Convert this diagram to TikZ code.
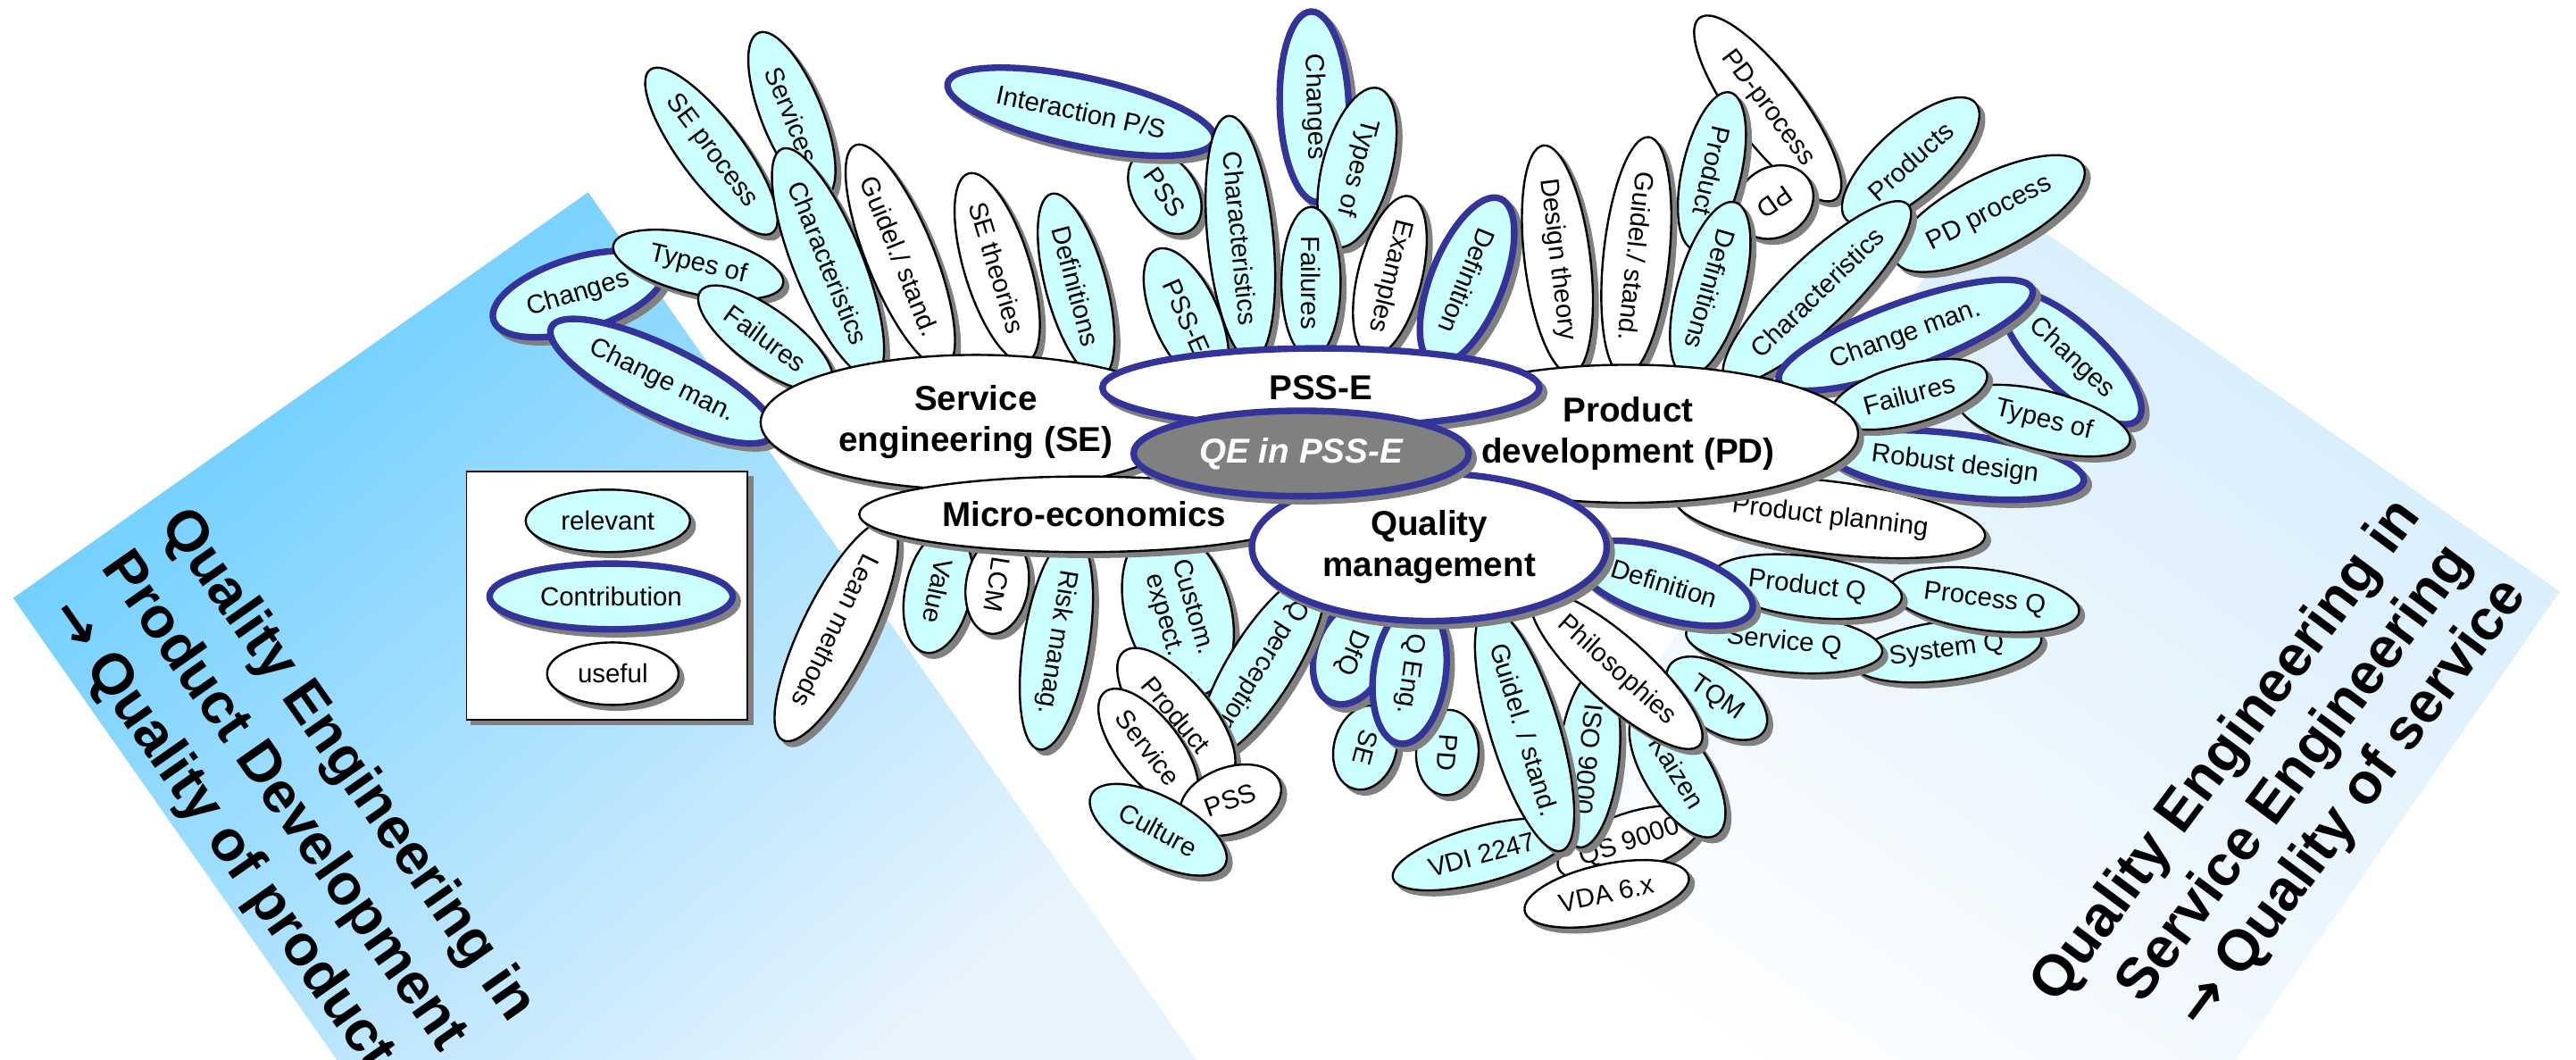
\documentclass[tikz,border=0pt]{standalone}
\usepackage{fontspec}
\setmainfont{Liberation Sans}
\newfontfamily\arrowfont{DejaVu Sans}
\usetikzlibrary{shapes.geometric}
\definecolor{relfill}{HTML}{CCFFFF}
\definecolor{navy}{HTML}{333399}
\definecolor{shadowgray}{HTML}{808080}
\definecolor{qegray}{HTML}{808080}
\definecolor{lpanelA}{HTML}{66CCFF}
\definecolor{lpanelB}{HTML}{E8F4FD}
\definecolor{rpanelA}{HTML}{D4ECFC}
\definecolor{rpanelB}{HTML}{FFFFFF}
\newcommand\lblfont{\fontsize{16}{18}\selectfont}
\newcommand\ttlfont{\bfseries\fontsize{21}{25}\selectfont}
\newcommand\bigfont{\bfseries\fontsize{35}{42}\selectfont}
\newcommand\petal[8]{\node[#1, rotate=#5, minimum width=#6pt, minimum height=#7pt] (#2) at (#3,-#4) {#8};}
\begin{document}
\begin{tikzpicture}[x=1pt,y=1pt,
  shad/.style={preaction={fill=shadowgray, draw=shadowgray, transform canvas={shift={(3pt,-3pt)}}}},
  base/.style={ellipse, inner sep=0pt, outer sep=0pt, font=\lblfont, align=center, shad},
  rel/.style={base, fill=relfill, draw=black, line width=1.3pt},
  con/.style={base, fill=relfill, draw=navy, line width=4pt},
  use/.style={base, fill=white, draw=black, line width=1.3pt},
  ttl/.style={base, font=\ttlfont, fill=white, draw=black, line width=1.3pt},
  ttlc/.style={ttl, draw=navy, line width=4pt},
  big/.style={font=\bigfont, inner sep=0pt},
]
\useasboundingbox (0,0) rectangle (1568,-645);
\fill[white] (0,0) rectangle (1568,-645);
% panels
\shade[top color=lpanelA, bottom color=lpanelB, shading angle=40]
  (358,-117) -- (8,-364) -- (205,-645) -- (728,-645) -- cycle;
\shade[top color=rpanelA, bottom color=rpanelB, shading angle=-35]
  (1208,-116) -- (1558,-360) -- (1361,-645) -- (841,-645) -- cycle;
% panel texts
\node[big, rotate=-55, anchor=base west] (lt1) at (97,-319) {Quality Engineering in};
\node[big, rotate=-55, anchor=base west] (lt2) at (61,-345) {Product Development};
\node[big, rotate=-55, anchor=base west] (lt3) at (29,-374) {{\arrowfont →} Quality of product};
\node[big, rotate=53.3, anchor=base west] (rt1) at (1252,-612) {Quality Engineering in};
\node[big, rotate=53.3, anchor=base west] (rt2) at (1304,-612) {Service Engineering};
\node[big, rotate=53.3, anchor=base west] (rt3) at (1341,-628) {{\arrowfont →} Quality of service};
% legend
\node[draw=black, line width=1pt, fill=white, shad, minimum width=171pt, minimum height=151pt, inner sep=0pt] (legend) at (369.5,-362.5) {};
\petal{rel}{lgr}{370}{317}{0}{100}{38}{relevant}
\petal{con}{lgc}{372}{363}{0}{148}{40}{Contribution}
\petal{use}{lgu}{373}{410}{0}{80}{38}{useful}
% SE cluster
\petal{rel}{sep}{433}{92}{-53}{124}{38}{SE process}
\petal{rel}{svc}{482}{70}{-68}{108}{37}{Services}
\petal{con}{chs}{352}{179}{17}{108}{44}{Changes}
\petal{rel}{tys}{425}{161}{-13}{106}{36}{Types of}
\petal{con}{cms}{403}{232}{-26}{150}{42}{Change man.}
\petal{rel}{fas}{466}{206}{-36}{98}{36}{Failures}
\petal{rel}{chrs}{504}{160}{-68}{146}{42}{Characteristics}
\petal{use}{gus}{548}{156}{-68}{142}{41}{Guidel./ stand.}
\petal{use}{set}{607}{163}{-73}{120}{40}{SE theories}
\petal{rel}{dfs}{655}{174}{-75}{116}{37}{Definitions}
% PSS cluster
\petal{rel}{pss1}{709}{117}{-55}{56}{38}{PSS}
\petal{con}{ips}{658}{68}{-12}{166}{42}{Interaction P/S}
\petal{rel}{pssepet}{722}{193}{-66}{90}{40}{PSS-E}
\petal{rel}{chp}{755}{145}{-84.5}{148}{40}{Characteristics}
\petal{con}{chp2}{800}{65}{-88}{116}{42}{Changes}
\petal{rel}{typ}{826}{102}{-105}{100}{42}{Types of}
\petal{rel}{fap}{798}{172}{-90}{92}{36}{Failures}
\petal{use}{exa}{846}{168}{-104}{100}{39}{Examples}
\petal{con}{dfp}{893}{171}{-112}{108}{44}{Definition}
% PD cluster
\petal{use}{pdp}{1076}{66}{-53}{138}{42}{PD-process}
\petal{use}{pds}{1080}{123}{-145}{50}{42}{PD}
\petal{rel}{prd}{1042}{104}{-103}{98}{36}{Product}
\petal{use}{dst}{948}{158}{-83}{140}{40}{Design theory}
\petal{use}{gup}{996}{156}{-96}{140}{40}{Guidel./ stand.}
\petal{rel}{dfd}{1041}{176}{-106}{110}{40}{Definitions}
\petal{rel}{pro}{1163}{98}{42}{106}{42}{Products}
\petal{rel}{pdpr}{1211}{130}{27}{128}{46}{PD process}
\petal{rel}{chd}{1106}{178}{44}{154}{42}{Characteristics}
\petal{con}{chg}{1261}{218}{-43}{110}{40}{Changes}
\petal{con}{cmd}{1160}{204}{20}{164}{40}{Change man.}
\petal{use}{ppl}{1114}{315}{-7}{190}{44}{Product planning}
\petal{con}{rob}{1190}{283}{-7}{158}{38}{Robust design}
\petal{rel}{tyd}{1244}{256}{-14}{108}{36}{Types of}
\petal{rel}{fad}{1162}{240}{15}{98}{36}{Failures}
% QM cluster
\petal{rel}{sysq}{1185}{396}{7.5}{116}{36}{System Q}
\petal{rel}{prcq}{1208}{365}{-7.4}{116}{37}{Process Q}
\petal{rel}{svq}{1086}{391}{-5.6}{120}{36}{Service Q}
\petal{rel}{prq}{1100}{357}{-7}{116}{37}{Product Q}
\petal{con}{dfq}{1013}{355}{-17}{112}{42}{Definition}
\petal{use}{qs}{992}{513}{19}{92}{36}{QS 9000}
\petal{use}{vda}{978}{544}{12}{102}{36}{VDA 6.x}
\petal{rel}{vdi}{902}{520}{15}{112}{34}{VDI 2247}
\petal{rel}{tqm}{1045}{425}{-35}{70}{38}{TQM}
\petal{rel}{kai}{1021}{470}{-58}{90}{40}{Kaizen}
\petal{rel}{iso}{967}{462}{-96}{108}{37}{ISO 9000}
\petal{rel}{guq}{928}{444}{-73}{150}{42}{Guidel. / stand.}
\petal{use}{phi}{984}{408}{-42}{136}{40}{Philosophies}
\petal{rel}{seq}{831}{455}{-105}{52}{38}{SE}
\petal{rel}{pdq}{881}{458}{-94}{52}{38}{PD}
\petal{con}{dfqq}{823}{397}{-112}{66}{44}{DfQ}
\petal{con}{qen}{858}{410}{-98}{86}{44}{Q Eng.}
% Micro-economics cluster
\petal{use}{lean}{509}{384}{-116}{148}{42}{Lean methods}
\petal{rel}{val}{571}{360}{-102}{76}{40}{Value}
\petal{use}{lcm}{607}{356}{-99}{60}{38}{LCM}
\petal{rel}{risk}{643}{391}{-99}{132}{40}{Risk manag.}
\petal{rel}{cus}{717}{372}{-74}{106}{64}{Custom.\\expect.}
\petal{rel}{qpe}{768}{405}{-122}{118}{40}{Q perception}
\petal{use}{prb}{716}{435}{-50}{100}{42}{Product}
\petal{use}{svb}{699}{455}{-52}{86}{38}{Service}
\petal{use}{psb}{749}{487}{20}{64}{40}{PSS}
\petal{rel}{cul}{705}{505}{-28}{92}{40}{Culture}
% central nodes
\node[ttl, minimum width=262pt, minimum height=82pt] (se) at (594,-257) {Service\\engineering (SE)};
\node[ttl, minimum width=280pt, minimum height=84pt] (pd) at (991,-264) {Product\\development (PD)};
\node[ttl, minimum width=274pt, minimum height=46pt] (me) at (660,-313) {Micro-economics};
\node[ttlc, minimum width=216pt, minimum height=90pt] (qm) at (870,-333) {Quality\\management};
\node[ttlc, minimum width=266pt, minimum height=48pt] (psse) at (804,-236) {PSS-E};
\node[ttlc, fill=qegray, text=white, font=\ttlfont\itshape, minimum width=204pt, minimum height=52pt] (qe) at (792,-276) {QE in PSS-E};
\end{tikzpicture}
\end{document}
